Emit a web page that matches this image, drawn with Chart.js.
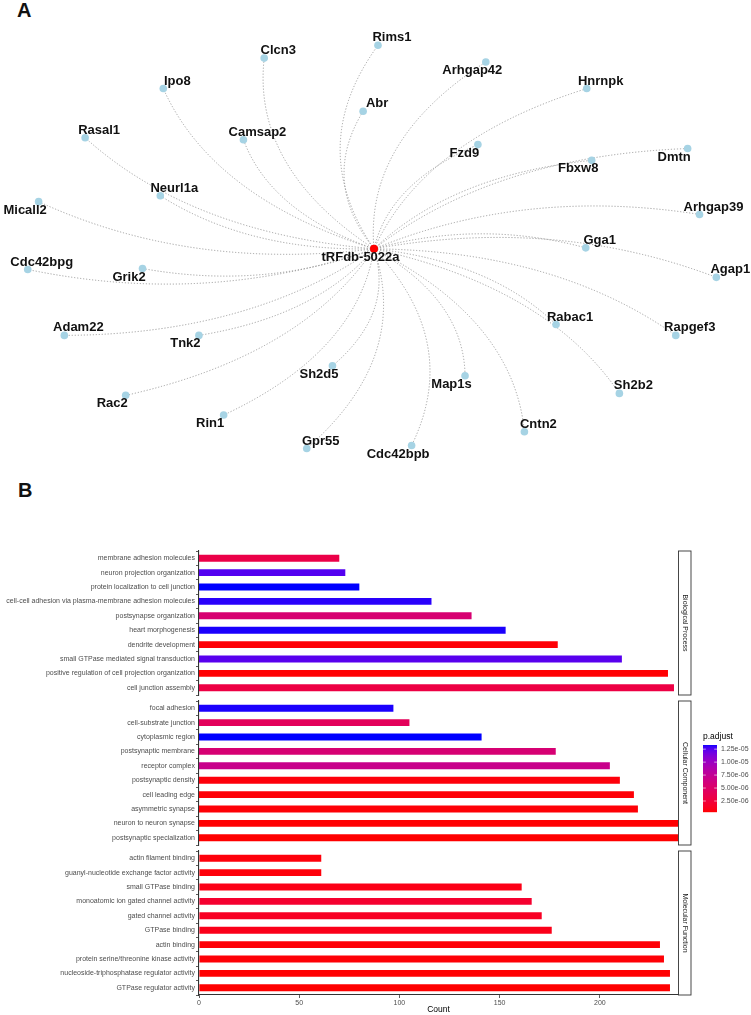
<!DOCTYPE html>
<html><head><meta charset="utf-8">
<script src="https://cdn.jsdelivr.net/npm/chart.js@4.4.1/dist/chart.umd.min.js"></script>
<style>
html,body{margin:0;padding:0;background:#fff;width:751px;height:1015px;overflow:hidden;position:relative;font-family:"Liberation Sans",Arial,sans-serif;}
canvas{position:absolute;left:0;}
.tag{position:absolute;font:bold 20px/20px "Liberation Sans",Arial,sans-serif;color:#111;}
</style></head><body>
<div class="tag" style="left:17px;top:0px">A</div>
<div class="tag" style="left:18px;top:480px">B</div>
<canvas id="net" width="751" height="480" style="top:0"></canvas>
<canvas id="bp" width="751" height="156" style="top:545px"></canvas>
<canvas id="cc" width="751" height="156" style="top:695px"></canvas>
<canvas id="mf" width="751" height="170" style="top:845px"></canvas>
<script>
// ---------------- Panel A data (network layout) ----------------
const hubName = ["tRFdb-5022a"];
const hubX = [374];
const hubY = [249];
const geneNames = ["Rims1","Arhgap42","Hnrnpk","Fzd9","Dmtn","Fbxw8","Arhgap39","Gga1","Agap1","Rapgef3","Rabac1","Sh2b2","Cntn2","Map1s","Cdc42bpb","Gpr55","Sh2d5","Rin1","Rac2","Tnk2","Adam22","Grik2","Cdc42bpg","Micall2","Neurl1a","Rasal1","Ipo8","Camsap2","Clcn3","Abr"];
const geneX = [378,487,589,479,691,594,703,588,720,679,558,622,526,466,412,306,332,222,123,197,61,140,24,35,158,82,161,242,263,363];
const geneY = [42,59,86,143,147,159,214,248,278,337,326,396,435,378,449,452,368,418,398,337,337,269,270,201,195,136,86,138,55,109];
const labelSide = ["ur","dl","ur","dl","dl","dl","ur","ur","ur","ur","ur","ur","ur","dl","dl","ur","dl","dl","dl","dl","ur","dl","ur","dl","ur","ur","ur","ur","ur","ur"];
const hubSide = ["dl"];

// ---------------- Panel B data (GO enrichment) ----------------
const bpTerms = ["membrane adhesion molecules","neuron projection organization","protein localization to cell junction","cell-cell adhesion via plasma-membrane adhesion molecules","postsynapse organization","heart morphogenesis","dendrite development","small GTPase mediated signal transduction","positive regulation of cell projection organization","cell junction assembly"];
const bpCount = [70,73,80,116,136,153,179,211,234,237];
const bpPadj = [3.2e-6,1.25e-5,1.33e-5,1.31e-5,5.5e-6,1.32e-5,5e-7,1.24e-5,4.5e-7,3.0e-6];

const ccTerms = ["focal adhesion","cell-substrate junction","cytoplasmic region","postsynaptic membrane","receptor complex","postsynaptic density","cell leading edge","asymmetric synapse","neuron to neuron synapse","postsynaptic specialization"];
const ccCount = [97,105,141,178,205,210,217,219,239,239];
const ccPadj = [1.32e-5,4.2e-6,1.33e-5,5.6e-6,7.0e-6,6e-7,5e-7,5e-7,4e-7,3.8e-7];

const mfTerms = ["actin filament binding","guanyl-nucleotide exchange factor activity","small GTPase binding","monoatomic ion gated channel activity","gated channel activity","GTPase binding","actin binding","protein serine/threonine kinase activity","nucleoside-triphosphatase regulator activity","GTPase regulator activity"];
const mfCount = [61,61,161,166,171,176,230,232,235,235];
const mfPadj = [6e-7,6e-7,9e-7,1.9e-6,1.4e-6,1.0e-6,5e-7,5e-7,4e-7,3.8e-7];

const stripNames = ["Biological Process","Cellular Component","Molecular Function"];
const xTicks = [0,50,100,150,200];
const xMax = [239];
const legendBreaks = [1.25e-5,1.0e-5,7.5e-6,5.0e-6,2.5e-6];
const legendLabels = ["1.25e-05","1.00e-05","7.50e-06","5.00e-06","2.50e-06"];

// ---------------- helpers ----------------
const FF = '"Liberation Sans", Arial, Helvetica, sans-serif';
Chart.defaults.font.family = FF;

function s2l(c){c/=255;return c<=0.04045?c/12.92:Math.pow((c+0.055)/1.055,2.4);}
function l2s(c){c=Math.max(0,Math.min(1,c));return Math.round(255*(c<=0.0031308?12.92*c:1.055*Math.pow(c,1/2.4)-0.055));}
function rgb2lab(rgb){
  const R=s2l(rgb[0]),G=s2l(rgb[1]),B=s2l(rgb[2]);
  const X=(0.4124*R+0.3576*G+0.1805*B)/0.95047, Y=0.2126*R+0.7152*G+0.0722*B, Z=(0.0193*R+0.1192*G+0.9505*B)/1.08883;
  const f=t=>t>0.008856?Math.cbrt(t):7.787*t+16/116;
  const fx=f(X),fy=f(Y),fz=f(Z);
  return [116*fy-16,500*(fx-fy),200*(fy-fz)];
}
function lab2rgb(lab){
  const fy=(lab[0]+16)/116, fx=fy+lab[1]/500, fz=fy-lab[2]/200;
  const fi=t=>t>0.206893?t*t*t:(t-16/116)/7.787;
  const X=0.95047*fi(fx),Y=fi(fy),Z=1.08883*fi(fz);
  return [l2s(3.2406*X-1.5372*Y-0.4986*Z), l2s(-0.9689*X+1.8758*Y+0.0415*Z), l2s(0.0557*X-0.2040*Y+1.0570*Z)];
}
const LOW = rgb2lab([255,0,0]), HIGH = rgb2lab([0,0,255]);
const allP = bpPadj.concat(ccPadj, mfPadj);
const pMin = Math.min(...allP), pMax = Math.max(...allP);
function pColor(p){
  const t=Math.max(0,Math.min(1,(p-pMin)/(pMax-pMin)));
  const c=lab2rgb([0,1,2].map(i=>LOW[i]+(HIGH[i]-LOW[i])*t));
  return `rgb(${c[0]},${c[1]},${c[2]})`;
}

// ---------------- Panel A: network ----------------
const EDGE_BEND = 0.22, LAYOUT_ASPECT = 1.6;
const labelOffset = {ur:[14,-7.5], dl:[-13.5,8.5]};
const edgePlugin = {
  id:'edges',
  beforeDatasetsDraw(chart){
    const {ctx, scales:{x,y}} = chart;
    const hx=x.getPixelForValue(hubX[0]), hy=y.getPixelForValue(hubY[0]);
    ctx.save();
    ctx.strokeStyle='#8c8c8c'; ctx.lineWidth=0.8; ctx.setLineDash([1.2,1.8]);
    geneNames.forEach((g,i)=>{
      const gx=x.getPixelForValue(geneX[i]), gy=y.getPixelForValue(geneY[i]);
      const dx=gx-hx, dy=gy-hy;
      const cx=(hx+gx)/2+EDGE_BEND*LAYOUT_ASPECT*dy, cy=(hy+gy)/2-EDGE_BEND*dx/LAYOUT_ASPECT;
      ctx.beginPath(); ctx.moveTo(hx,hy); ctx.quadraticCurveTo(cx,cy,gx,gy); ctx.stroke();
    });
    ctx.restore();
  }
};
const nodeLabelPlugin = {
  id:'nodeLabels',
  afterDatasetsDraw(chart){
    const {ctx, scales:{x,y}} = chart;
    ctx.save();
    ctx.font='bold 13px '+FF; ctx.fillStyle='#111'; ctx.textAlign='center'; ctx.textBaseline='middle';
    const put=(name,vx,vy,side)=>{const o=labelOffset[side];ctx.fillText(name,x.getPixelForValue(vx)+o[0],y.getPixelForValue(vy)+o[1]);};
    geneNames.forEach((g,i)=>put(g,geneX[i],geneY[i],labelSide[i]));
    put(hubName[0],hubX[0],hubY[0],hubSide[0]);
    ctx.restore();
  }
};
new Chart(document.getElementById('net'),{
  type:'scatter',
  data:{datasets:[
    {data:geneNames.map((g,i)=>({x:geneX[i],y:geneY[i]})), pointRadius:3.8, backgroundColor:'#A6D3E4', borderWidth:0},
    {data:hubName.map((g,i)=>({x:hubX[i],y:hubY[i]})), pointRadius:4, backgroundColor:'#FF0000', borderWidth:0}
  ]},
  options:{responsive:false, animation:false, events:[], layout:{padding:0},
    plugins:{legend:{display:false},tooltip:{enabled:false}},
    scales:{x:{type:'linear',min:0,max:751,display:false},y:{type:'linear',min:0,max:480,reverse:true,display:false}}},
  plugins:[edgePlugin,nodeLabelPlugin]
});

// ---------------- Panel B: facets ----------------
const stripPlugin = {
  id:'strip',
  afterDraw(chart,args,opts){
    const {ctx, chartArea:ca} = chart;
    ctx.save();
    ctx.fillStyle='#fff'; ctx.strokeStyle='#333'; ctx.lineWidth=0.9;
    ctx.fillRect(ca.right+0.5,ca.top,12.5,ca.bottom-ca.top);
    ctx.strokeRect(ca.right+0.5,ca.top,12.5,ca.bottom-ca.top);
    ctx.translate(ca.right+6.8,(ca.top+ca.bottom)/2);
    ctx.rotate(Math.PI/2);
    ctx.font='7px '+FF; ctx.fillStyle='#1a1a1a'; ctx.textAlign='center'; ctx.textBaseline='middle';
    ctx.fillText(opts.text,0,0);
    ctx.restore();
  }
};
const legendPlugin = {
  id:'pLegend',
  afterDraw(chart,args,opts){
    if(!opts.show) return;
    const {ctx, chartArea:ca} = chart;
    const bx=ca.right+25, bw=14, btop=ca.top+44, bh=67, bbot=btop+bh;
    ctx.save();
    for(let i=0;i<bh;i++){
      const v=pMax-(i+0.5)/bh*(pMax-pMin);
      ctx.fillStyle=pColor(v); ctx.fillRect(bx,btop+i,bw,1.2);
    }
    ctx.strokeStyle='#fff'; ctx.lineWidth=0.6;
    ctx.font='7px '+FF; ctx.textAlign='left'; ctx.textBaseline='middle';
    legendBreaks.forEach((v,i)=>{
      const yy=bbot-(v-pMin)/(pMax-pMin)*bh;
      ctx.beginPath(); ctx.moveTo(bx,yy); ctx.lineTo(bx+2.8,yy); ctx.moveTo(bx+bw-2.8,yy); ctx.lineTo(bx+bw,yy); ctx.stroke();
      ctx.fillStyle='#4d4d4d'; ctx.fillText(legendLabels[i],bx+bw+4,yy);
    });
    ctx.font='8.5px '+FF; ctx.fillStyle='#000';
    ctx.fillText('p.adjust',bx,btop-8);
    ctx.restore();
  }
};
function facet(id, terms, counts, padj, strip, bottom, legend){
  const xScale = {type:'linear',min:0,max:xMax[0],display:bottom,
    afterBuildTicks:s=>{s.ticks=xTicks.map(v=>({value:v}));},
    grid:{drawOnChartArea:false,color:'#333',tickLength:3,lineWidth:0.8},
    border:{display:true,color:'#333',width:1.1},
    ticks:{font:{size:7},color:'#4d4d4d',padding:1,maxRotation:0},
    title:{display:true,text:'Count',font:{size:8.5},color:'#000',padding:{top:0,bottom:0}}};
  if(bottom) xScale.afterFit = s=>{s.height=20;};
  return new Chart(document.getElementById(id),{
    type:'bar',
    data:{labels:terms, datasets:[{data:counts, backgroundColor:padj.map(pColor), borderWidth:0, barPercentage:0.48, categoryPercentage:1}]},
    options:{indexAxis:'y', responsive:false, animation:false, events:[],
      layout:{padding:{top:6,bottom:bottom?0:6,left:0,right:73}},
      plugins:{legend:{display:false},tooltip:{enabled:false},strip:{text:strip},pLegend:{show:legend}},
      scales:{
        x:xScale,
        y:{type:'category',
          afterFit:s=>{s.width=199;},
          grid:{drawOnChartArea:false,color:'#333',tickLength:3,lineWidth:0.8},
          border:{display:true,color:'#333',width:1.1},
          ticks:{font:{size:7},color:'#4d4d4d',padding:1,autoSkip:false}}
      }},
    plugins:[stripPlugin,legendPlugin]
  });
}
facet('bp',bpTerms,bpCount,bpPadj,stripNames[0],false,false);
facet('cc',ccTerms,ccCount,ccPadj,stripNames[1],false,true);
facet('mf',mfTerms,mfCount,mfPadj,stripNames[2],true,false);
</script>
</body></html>
